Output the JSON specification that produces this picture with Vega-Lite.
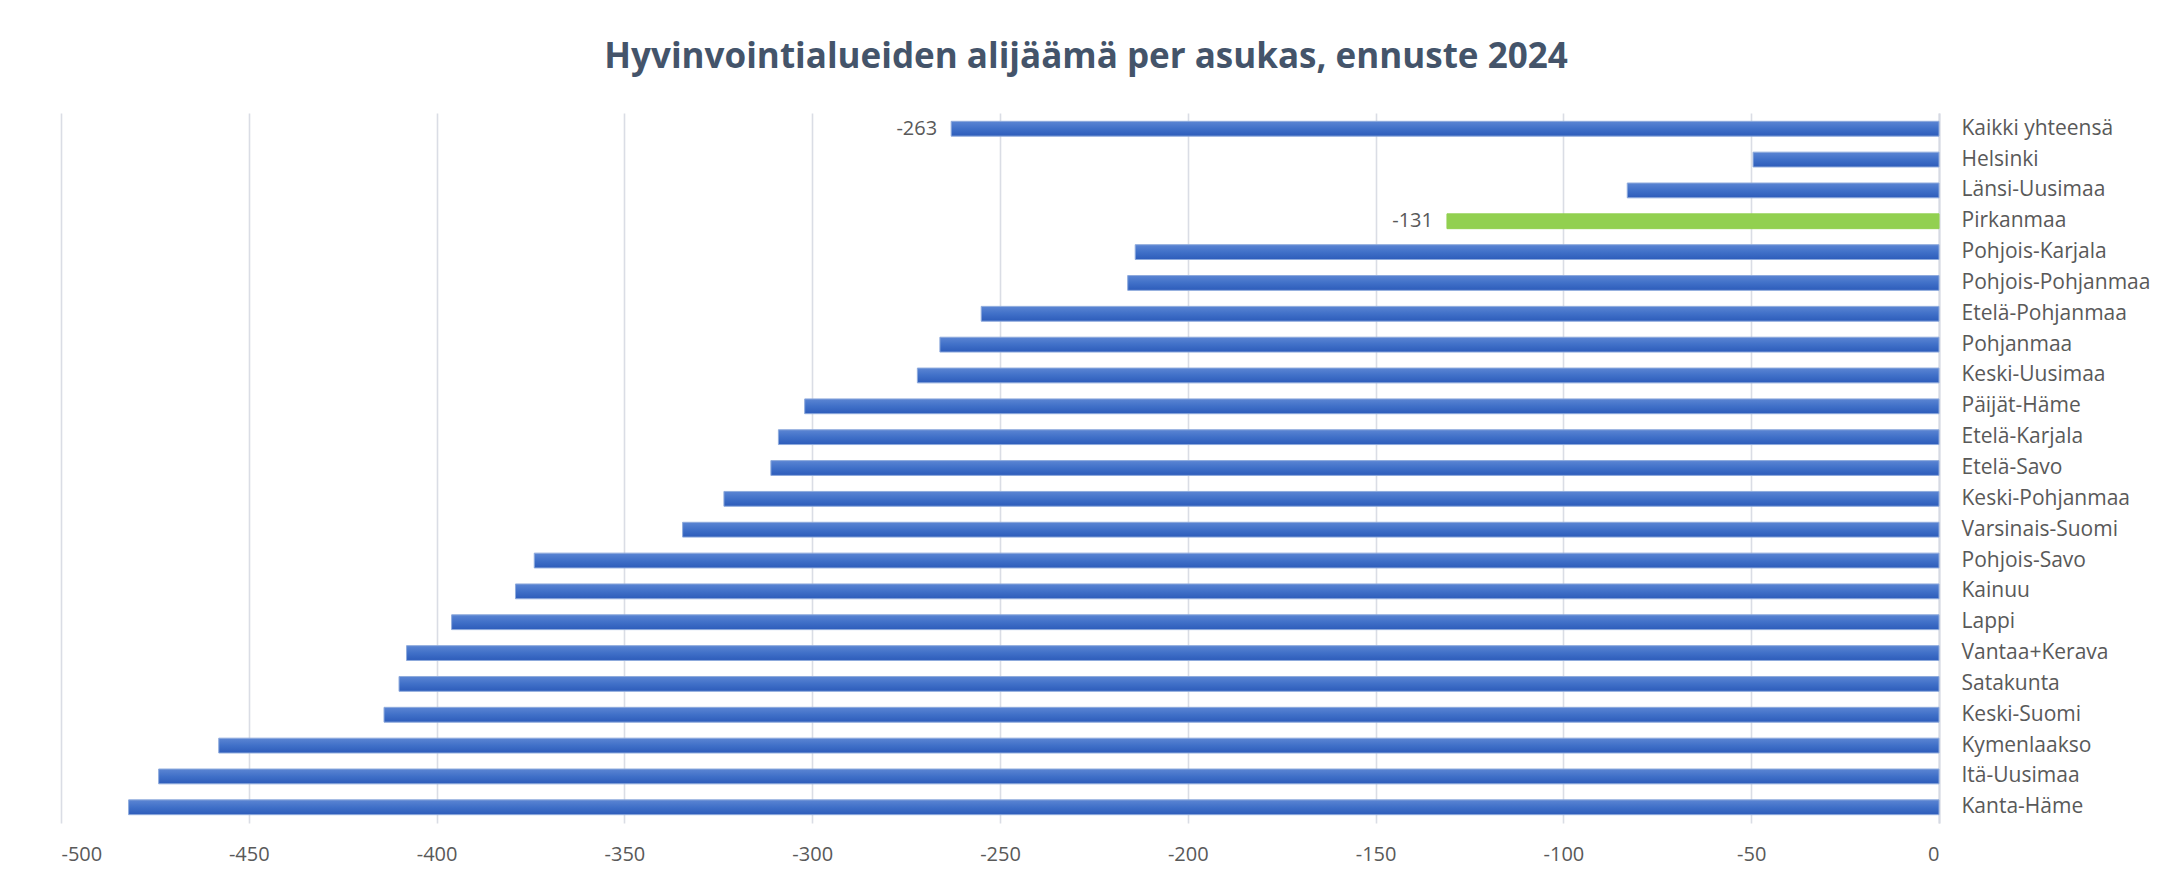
{
  "$schema": "https://vega.github.io/schema/vega-lite/v6.json",
  "autosize": {"type": "none"},
  "width": 1878,
  "height": 710,
  "padding": {"left": 61, "top": 113, "right": 233, "bottom": 59},
  "background": "#ffffff",
  "title": {
    "text": "Hyvinvointialueiden alijäämä per asukas, ennuste 2024",
    "font": "Open Sans",
    "fontSize": 35,
    "fontWeight": "bold",
    "color": "#44546A",
    "anchor": "middle",
    "dx": 86,
    "offset": 38
  },
  "config": {
    "view": {"stroke": null},
    "axis": {"gridColor": "#dadde5", "gridWidth": 1.6}
  },
  "data": {
    "values": [
      {"region": "Kaikki yhteensä", "value": -263, "highlight": false, "label": "-263"},
      {"region": "Helsinki", "value": -49.5, "highlight": false, "label": null},
      {"region": "Länsi-Uusimaa", "value": -83, "highlight": false, "label": null},
      {"region": "Pirkanmaa", "value": -131, "highlight": true, "label": "-131"},
      {"region": "Pohjois-Karjala", "value": -214, "highlight": false, "label": null},
      {"region": "Pohjois-Pohjanmaa", "value": -216, "highlight": false, "label": null},
      {"region": "Etelä-Pohjanmaa", "value": -255, "highlight": false, "label": null},
      {"region": "Pohjanmaa", "value": -266, "highlight": false, "label": null},
      {"region": "Keski-Uusimaa", "value": -272, "highlight": false, "label": null},
      {"region": "Päijät-Häme", "value": -302, "highlight": false, "label": null},
      {"region": "Etelä-Karjala", "value": -309, "highlight": false, "label": null},
      {"region": "Etelä-Savo", "value": -311, "highlight": false, "label": null},
      {"region": "Keski-Pohjanmaa", "value": -323.5, "highlight": false, "label": null},
      {"region": "Varsinais-Suomi", "value": -334.5, "highlight": false, "label": null},
      {"region": "Pohjois-Savo", "value": -374, "highlight": false, "label": null},
      {"region": "Kainuu", "value": -379, "highlight": false, "label": null},
      {"region": "Lappi", "value": -396, "highlight": false, "label": null},
      {"region": "Vantaa+Kerava", "value": -408, "highlight": false, "label": null},
      {"region": "Satakunta", "value": -410, "highlight": false, "label": null},
      {"region": "Keski-Suomi", "value": -414, "highlight": false, "label": null},
      {"region": "Kymenlaakso", "value": -458, "highlight": false, "label": null},
      {"region": "Itä-Uusimaa", "value": -474, "highlight": false, "label": null},
      {"region": "Kanta-Häme", "value": -482, "highlight": false, "label": null}
    ]
  },
  "encoding": {
    "y": {
      "field": "region",
      "type": "nominal",
      "sort": null,
      "scale": {"paddingInner": 0.52, "paddingOuter": 0.27},
      "axis": {
        "orient": "right",
        "title": null,
        "ticks": false,
        "grid": false,
        "domain": true,
        "domainColor": "#d6dae3",
        "domainWidth": 2,
        "labelFont": "Open Sans",
        "labelFontSize": 21,
        "labelColor": "#595959",
        "labelPadding": 22,
        "labelAlign": "left",
        "labelLimit": 400
      }
    },
    "x": {
      "field": "value",
      "type": "quantitative",
      "scale": {"domain": [-500, 0], "nice": false},
      "axis": {
        "title": null,
        "values": [-500, -450, -400, -350, -300, -250, -200, -150, -100, -50, 0],
        "labelExpr": "'' + datum.value",
        "ticks": false,
        "domain": false,
        "grid": true,
        "labelFont": "Open Sans",
        "labelFontSize": 20,
        "labelColor": "#595959",
        "labelPadding": 21
      }
    }
  },
  "layer": [
    {
      "mark": {"type": "bar", "strokeWidth": 1},
      "encoding": {
        "color": {
          "condition": {"test": "datum.highlight", "value": "#92d050"},
          "value": {
            "gradient": "linear",
            "x1": 0, "y1": 0, "x2": 0, "y2": 1,
            "stops": [
              {"offset": 0, "color": "#5b85d3"},
              {"offset": 0.5, "color": "#4070c8"},
              {"offset": 1, "color": "#2d5cba"}
            ]
          }
        },
        "stroke": {
          "condition": {"test": "datum.highlight", "value": "#92d050"},
          "value": "#8eaadc"
        }
      }
    },
    {
      "transform": [{"filter": "datum.label != null"}],
      "mark": {
        "type": "text",
        "align": "right",
        "baseline": "middle",
        "dx": -14,
        "font": "Open Sans",
        "fontSize": 20,
        "color": "#595959"
      },
      "encoding": {"text": {"field": "label"}}
    }
  ]
}
